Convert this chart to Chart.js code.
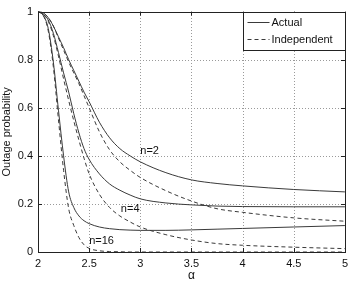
<!DOCTYPE html>
<html>
<head>
<meta charset="utf-8">
<script src="https://cdn.jsdelivr.net/npm/chart.js@4"></script>
<style>
  html, body { margin: 0; padding: 0; background: #fff; }
  #wrap { width: 353px; height: 283px; position: relative; }
</style>
</head>
<body>
<div id="wrap"><canvas id="outage-chart"></canvas></div>
<script>
// path loss exponent alpha
const alphas = [2, 2.05, 2.1, 2.15, 2.2, 2.25, 2.3, 2.35, 2.4, 2.45, 2.5, 2.6, 2.7, 2.8, 2.9, 3, 3.25, 3.5, 3.75, 4, 4.5, 5];

const actualN2  = [1, 0.995, 0.975, 0.94, 0.895, 0.85, 0.80, 0.755, 0.71, 0.665, 0.625, 0.54, 0.475, 0.43, 0.40, 0.375, 0.33, 0.30, 0.285, 0.275, 0.26, 0.25];
const indepN2   = [1, 0.995, 0.975, 0.94, 0.89, 0.84, 0.79, 0.745, 0.70, 0.65, 0.60, 0.50, 0.425, 0.375, 0.34, 0.31, 0.255, 0.212, 0.18, 0.165, 0.142, 0.128];
const actualN4  = [1, 0.99, 0.965, 0.91, 0.83, 0.745, 0.665, 0.575, 0.495, 0.43, 0.385, 0.325, 0.283, 0.257, 0.237, 0.221, 0.204, 0.196, 0.191, 0.189, 0.188, 0.188];
const indepN4   = [1, 0.99, 0.96, 0.90, 0.815, 0.72, 0.63, 0.545, 0.465, 0.39, 0.325, 0.24, 0.185, 0.15, 0.125, 0.104, 0.072, 0.05, 0.035, 0.028, 0.02, 0.014];
const actualN16 = [1, 0.985, 0.93, 0.79, 0.59, 0.40, 0.25, 0.185, 0.15, 0.13, 0.118, 0.104, 0.097, 0.093, 0.091, 0.09, 0.09, 0.092, 0.095, 0.098, 0.104, 0.11];
const indepN16  = [1, 0.985, 0.92, 0.77, 0.55, 0.34, 0.18, 0.11, 0.06, 0.03, 0.015, 0.005, 0.002, 0.001, 0, 0, 0, 0, 0, 0, 0, 0];

const xTicks = [2, 2.5, 3, 3.5, 4, 4.5, 5];
const yTicks = [0, 0.2, 0.4, 0.6, 0.8, 1];

// curve labels: [text, alpha, value]
const curveLabels = [["n=2", 3.0, 0.42], ["n=4", 2.81, 0.177], ["n=16", 2.5, 0.046]];

const lineColor = '#3a3a3a';
const fontFam = '"Liberation Sans", Arial, Helvetica, sans-serif';

function pts(ys) { return alphas.map((a, i) => ({ x: a, y: ys[i] })); }

function series(label, ys, dashed) {
  return {
    label: label,
    data: pts(ys),
    borderColor: lineColor,
    borderWidth: 1,
    borderDash: dashed ? [4, 3] : [],
    pointRadius: 0,
    fill: false,
    cubicInterpolationMode: 'monotone'
  };
}

// dotted grid under the curves, one dot every 3 px
const dottedGrid = {
  id: 'dottedGrid',
  beforeDatasetsDraw(chart) {
    const ctx = chart.ctx;
    const a = chart.chartArea;
    const xs = chart.scales.x, ys = chart.scales.y;
    const l = Math.round(a.left), r = Math.round(a.right);
    const t = Math.round(a.top), b = Math.round(a.bottom);
    ctx.save();
    ctx.fillStyle = '#9a9a9a';
    xTicks.slice(1, -1).forEach(v => {
      const px = Math.round(xs.getPixelForValue(v));
      for (let y = t; y < b; y += 3) ctx.fillRect(px, y, 1, 1);
    });
    yTicks.slice(1, -1).forEach(v => {
      const py = Math.round(ys.getPixelForValue(v));
      for (let x = l; x < r; x += 3) ctx.fillRect(x, py, 1, 1);
    });
    ctx.restore();
  }
};

// inward ticks, box, legend and curve labels (matlab look)
const matlabDeco = {
  id: 'matlabDeco',
  afterDraw(chart) {
    const ctx = chart.ctx;
    const a = chart.chartArea;
    const xs = chart.scales.x, ys = chart.scales.y;
    ctx.save();
    ctx.strokeStyle = '#222';
    ctx.lineWidth = 1;
    ctx.setLineDash([]);
    ctx.beginPath();
    xTicks.forEach(t => {
      const px = Math.round(xs.getPixelForValue(t)) + 0.5;
      ctx.moveTo(px, a.bottom); ctx.lineTo(px, a.bottom - 4);
      ctx.moveTo(px, a.top); ctx.lineTo(px, a.top + 4);
    });
    yTicks.forEach(t => {
      const py = Math.round(ys.getPixelForValue(t)) + 0.5;
      ctx.moveTo(a.left, py); ctx.lineTo(a.left + 4, py);
      ctx.moveTo(a.right, py); ctx.lineTo(a.right - 4, py);
    });
    ctx.stroke();
    ctx.strokeRect(Math.round(a.left) + 0.5, Math.round(a.top) + 0.5,
                   Math.round(a.right - a.left), Math.round(a.bottom - a.top));

    // curve labels
    ctx.fillStyle = '#111';
    ctx.font = '11px ' + fontFam;
    ctx.textAlign = 'left';
    ctx.textBaseline = 'middle';
    curveLabels.forEach(l => {
      ctx.fillText(l[0], xs.getPixelForValue(l[1]), ys.getPixelForValue(l[2]));
    });

    // legend box
    const bw = 102, bh = 38;
    const bx = Math.round(a.right) - bw + 0.5, by = Math.round(a.top) + 0.5;
    ctx.fillStyle = '#fff';
    ctx.fillRect(bx, by, bw, bh);
    ctx.strokeStyle = '#222';
    ctx.strokeRect(bx, by, bw, bh);
    const rows = [["Actual", []], ["Independent", [4, 3]]];
    rows.forEach((r, i) => {
      const yy = by + 10 + i * 17;
      ctx.strokeStyle = lineColor;
      ctx.setLineDash(r[1]);
      ctx.beginPath();
      ctx.moveTo(bx + 4, yy); ctx.lineTo(bx + 26, yy);
      ctx.stroke();
      ctx.setLineDash([]);
      ctx.fillStyle = '#111';
      ctx.fillText(r[0], bx + 28, yy);
    });
    ctx.restore();
  }
};

new Chart(document.getElementById('outage-chart'), {
  type: 'line',
  data: {
    datasets: [
      series('Actual n=2', actualN2, false),
      series('Independent n=2', indepN2, true),
      series('Actual n=4', actualN4, false),
      series('Independent n=4', indepN4, true),
      series('Actual n=16', actualN16, false),
      series('Independent n=16', indepN16, true)
    ]
  },
  options: {
    responsive: true,
    maintainAspectRatio: false,
    animation: false,
    layout: { padding: { top: 9, right: 6, left: 0, bottom: 0 } },
    plugins: {
      legend: { display: false },
      tooltip: { enabled: false }
    },
    scales: {
      x: {
        type: 'linear',
        min: 2, max: 5,
        afterBuildTicks: s => { s.ticks = xTicks.map(v => ({ value: v })); },
        afterFit: s => { s.height = 31; },
        grid: { display: false, drawTicks: false },
        border: { display: false },
        ticks: { color: '#111', font: { family: fontFam, size: 11 }, padding: 5, maxRotation: 0,
                 callback: v => String(v) },
        title: { display: true, text: 'α', color: '#111', font: { family: fontFam, size: 12 }, padding: { top: 0, bottom: 0 } }
      },
      y: {
        min: 0, max: 1,
        afterBuildTicks: s => { s.ticks = yTicks.map(v => ({ value: v })); },
        afterFit: s => { s.width = 38; },
        grid: { display: false, drawTicks: false },
        border: { display: false },
        ticks: { color: '#111', font: { family: fontFam, size: 11 }, padding: 5,
                 callback: v => String(v) },
        title: { display: true, text: 'Outage probability', color: '#111', font: { family: fontFam, size: 11 }, padding: { top: 0, bottom: 4 } }
      }
    }
  },
  plugins: [dottedGrid, matlabDeco]
});
</script>
</body>
</html>
